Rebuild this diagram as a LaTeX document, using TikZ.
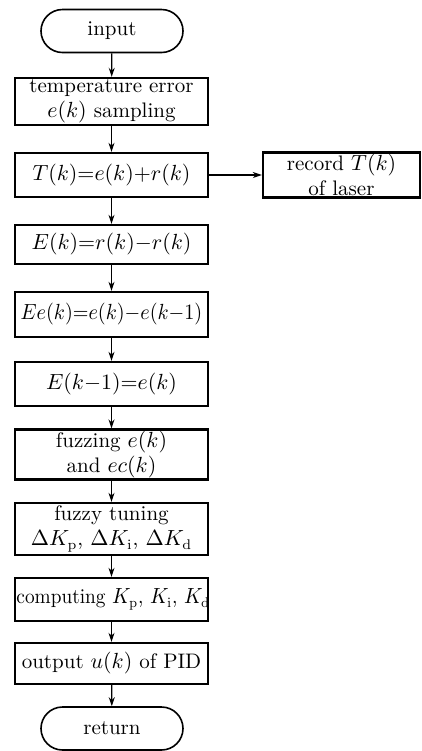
\documentclass[tikz,border=0pt]{standalone}
\usetikzlibrary{arrows.meta}
\begin{document}
\begin{tikzpicture}[x=0.5pt,y=-0.5pt,
  font=\fontsize{10.5}{12.5}\selectfont,
  procbox/.style={draw, line width=1.2pt, rectangle, minimum width=96.5pt, text width=95pt, align=center, inner sep=0.75pt},
  termbox/.style={draw, line width=0.8pt, rectangle, rounded corners=10.75pt, minimum width=71pt, minimum height=21.5pt, align=center},
  flow/.style={-{Stealth[length=4.5pt,width=3pt]}, line width=0.6pt}]
\useasboundingbox (0,0) rectangle (422,751);
\node[termbox] (in) at (112,31) {input};
\node[procbox, minimum height=23.5pt] (samp) at (111.5,101.5) {temperature error\\$e(k)$ sampling};
\node[procbox, minimum height=22pt] (T) at (111.5,175) {$T(k){=}e(k){+}r(k)$};
\node[procbox, minimum width=78.5pt, text width=76pt, minimum height=22pt] (rec) at (341.5,175) {record $T(k)$\\of laser};
\node[procbox, minimum height=19.5pt] (E) at (111.5,244.5) {$E(k){=}r(k){-}r(k)$};
\node[procbox, minimum height=22.5pt] (Ee) at (111.5,314.5) {\scalebox{0.92}[1]{$Ee(k){=}e(k){-}e(k{-}1)$}};
\node[procbox, minimum height=22pt] (E1) at (111.5,384) {$E(k{-}1){=}e(k)$};
\node[procbox, minimum height=22.5pt] (fz) at (111.5,454.5) {fuzzing $e(k)$\\and $ec(k)$};
\node[procbox, minimum height=26pt] (ft) at (111.5,529) {fuzzy tuning\\$\Delta K_{\mathrm{p}}$, $\Delta K_{\mathrm{i}}$, $\Delta K_{\mathrm{d}}$};
\node[procbox, minimum height=21.5pt] (cp) at (111.5,599.5) {\scalebox{0.92}[1]{computing $K_{\mathrm{p}}$, $K_{\mathrm{i}}$, $K_{\mathrm{d}}$}};
\node[procbox, minimum height=20.5pt] (out) at (111.5,663.5) {output $u(k)$ of PID};
\node[termbox] (ret) at (112,728.5) {return};
\draw[flow] (in) -- (samp);
\draw[flow] (samp) -- (T);
\draw[flow] (T) -- (rec);
\draw[flow] (T) -- (E);
\draw[flow] (E) -- (Ee);
\draw[flow] (Ee) -- (E1);
\draw[flow] (E1) -- (fz);
\draw[flow] (fz) -- (ft);
\draw[flow] (ft) -- (cp);
\draw[flow] (cp) -- (out);
\draw[flow] (out) -- (ret);
\end{tikzpicture}
\end{document}
